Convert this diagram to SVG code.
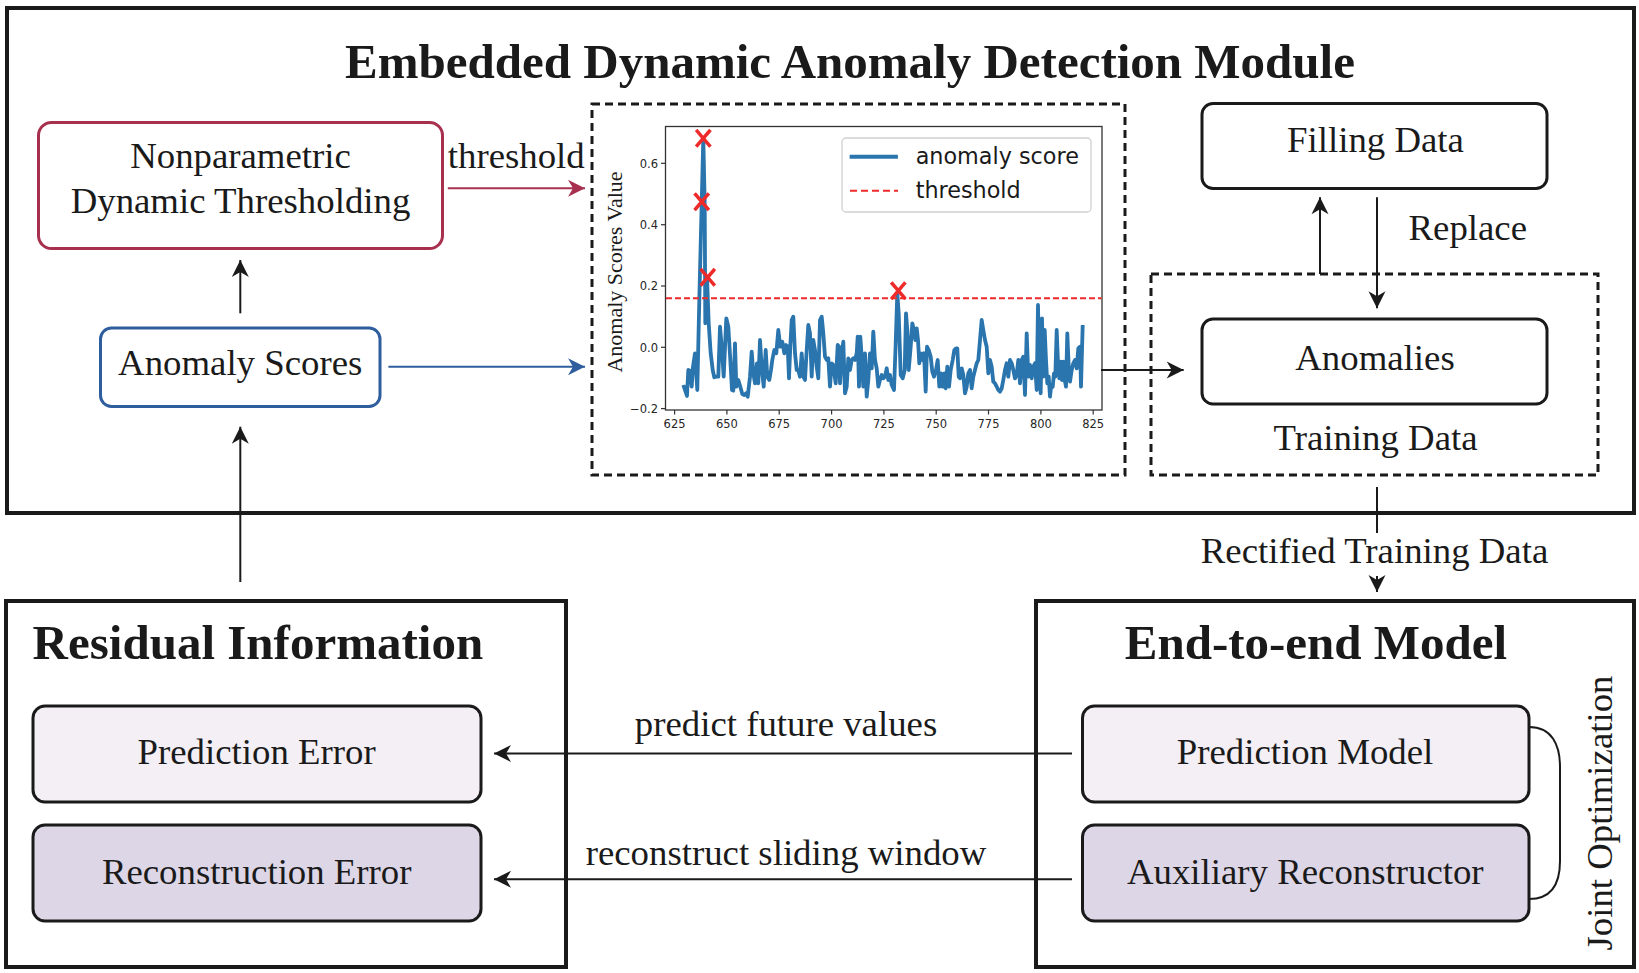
<svg xmlns="http://www.w3.org/2000/svg" width="1639" height="973" viewBox="0 0 1639 973">
<style>
.frame{fill:none;stroke:#1a1a1a;stroke-width:4}
.dash{fill:none;stroke:#1a1a1a;stroke-width:3;stroke-dasharray:8 5}
.box{fill:#fff;stroke:#1a1a1a;stroke-width:3}
.box.f1{fill:#f3eff5}
.box.f2{fill:#ddd6e7}
.t{font-family:"Liberation Serif","Times New Roman",serif;font-size:36.8px;fill:#1a1a1a}
.tb{font-family:"Liberation Serif","Times New Roman",serif;font-size:49px;font-weight:bold;fill:#1a1a1a}
.c{text-anchor:middle}
.ln{fill:none;stroke:#1a1a1a;stroke-width:2}
.tick{font-family:"DejaVu Sans",sans-serif;font-size:11.5px;fill:#262626}
.leg{font-family:"DejaVu Sans",sans-serif;font-size:22.3px;fill:#1a1a1a}
.x{stroke:#ee2a2a;stroke-width:3.5;stroke-linecap:square}
</style>
<defs>
<marker id="ah" markerUnits="userSpaceOnUse" markerWidth="22" markerHeight="22" viewBox="-19 -11 22 22" refX="0" refY="0" orient="auto"><path d="M0,0 L-17,-8.5 L-12,0 L-17,8.5 Z" fill="#1a1a1a"/></marker>
<marker id="ahr" markerUnits="userSpaceOnUse" markerWidth="22" markerHeight="22" viewBox="-19 -11 22 22" refX="0" refY="0" orient="auto"><path d="M0,0 L-17,-8.5 L-12,0 L-17,8.5 Z" fill="#a8304f"/></marker>
<marker id="ahb" markerUnits="userSpaceOnUse" markerWidth="22" markerHeight="22" viewBox="-19 -11 22 22" refX="0" refY="0" orient="auto"><path d="M0,0 L-17,-8.5 L-12,0 L-17,8.5 Z" fill="#2f5e9e"/></marker>
</defs>

<g id="module">
<rect class="frame" x="7" y="8" width="1627" height="505"/>
<text class="tb c" x="850" y="78">Embedded Dynamic Anomaly Detection Module</text>
</g>

<g id="nonparametric">
<rect x="38.5" y="122.5" width="404" height="126" rx="13" fill="#fff" stroke="#a8304f" stroke-width="3"/>
<text class="t c" x="240.5" y="168">Nonparametric</text>
<text class="t c" x="240.5" y="213">Dynamic Thresholding</text>
</g>

<g id="anomaly-scores">
<rect x="100.5" y="328" width="279.5" height="78.5" rx="11" fill="#fff" stroke="#2f5e9e" stroke-width="3"/>
<text class="t c" x="240.2" y="375">Anomaly Scores</text>
</g>

<g id="chart">
<rect class="dash" x="592" y="104" width="533" height="371"/>
<rect x="665.5" y="126.5" width="436.5" height="283.5" fill="#fff" stroke="#333" stroke-width="1.3"/>
<g stroke="#333" stroke-width="1.2">
<line x1="661" y1="408.6" x2="665.5" y2="408.6"/>
<line x1="661" y1="347.3" x2="665.5" y2="347.3"/>
<line x1="661" y1="286" x2="665.5" y2="286"/>
<line x1="661" y1="224.7" x2="665.5" y2="224.7"/>
<line x1="661" y1="163.3" x2="665.5" y2="163.3"/>
<line x1="674.6" y1="410" x2="674.6" y2="414.5"/>
<line x1="726.9" y1="410" x2="726.9" y2="414.5"/>
<line x1="779.2" y1="410" x2="779.2" y2="414.5"/>
<line x1="831.6" y1="410" x2="831.6" y2="414.5"/>
<line x1="883.9" y1="410" x2="883.9" y2="414.5"/>
<line x1="936.2" y1="410" x2="936.2" y2="414.5"/>
<line x1="988.5" y1="410" x2="988.5" y2="414.5"/>
<line x1="1040.9" y1="410" x2="1040.9" y2="414.5"/>
<line x1="1093.2" y1="410" x2="1093.2" y2="414.5"/>
</g>
<g class="tick" text-anchor="end">
<text x="658" y="412.8">−0.2</text>
<text x="658" y="351.5">0.0</text>
<text x="658" y="290.2">0.2</text>
<text x="658" y="228.9">0.4</text>
<text x="658" y="167.5">0.6</text>
</g>
<g class="tick" text-anchor="middle">
<text x="674.6" y="428">625</text>
<text x="726.9" y="428">650</text>
<text x="779.2" y="428">675</text>
<text x="831.6" y="428">700</text>
<text x="883.9" y="428">725</text>
<text x="936.2" y="428">750</text>
<text x="988.5" y="428">775</text>
<text x="1040.9" y="428">800</text>
<text x="1093.2" y="428">825</text>
</g>
<text transform="translate(622,272) rotate(-90)" text-anchor="middle" font-family="Liberation Serif, Times New Roman, serif" font-size="22" fill="#1a1a1a">Anomaly Scores Value</text>
<polyline fill="none" stroke="#2a75ad" stroke-width="3.8" stroke-linejoin="round" points="683.3,385 687,396 688.3,370 690.3,370.7 691.7,386.7 693,366.7 695,353.3 697.3,390 699.3,300 701.7,203.3 703.3,138.3 704.7,203.3 705.3,323.3 707,276.7 708.7,323.3 710.7,353.3 712.7,370 714.3,377.3 716,376.7 718.3,376.7 720,326.7 721.7,346.7 723.7,376.7 726.3,318.3 728.3,326.7 730.3,360 732,390 733.3,390.7 735,343.3 736.3,386.7 738.3,380 740.3,386.7 742.3,394 744.3,395 746,393.3 747.7,396.7 750,376.7 751.7,351.7 753.3,373.3 755,383.3 757,363.3 758.3,383.3 760,340 761.7,366.7 763.7,386.7 765.7,350 767.3,376.7 769.3,380 771,370 772.3,360 774.3,350 776.3,353.3 778.3,330 780.3,346.7 782.3,341.7 784.3,353.3 786,345 787.7,346.7 789,378.3 790.3,346.7 791.7,320 793.3,316.7 795,353.3 796.7,370 798.3,370 800,376.7 801.7,353.3 803.3,376.7 805,380 806.7,350 808.3,325 810,333.3 811.7,376.7 813.3,340 815,350 816.7,366.7 818.3,378.3 820,320 821.7,316.7 823.3,333.3 825,356.7 826.7,360 828.3,358.3 830,386.7 831.7,363.3 833.3,365 835.7,383.3 837.7,345 839,346.7 840,383.3 841.7,353.3 843.3,341.7 845,393.3 846.7,386.7 848.3,358.3 850,370 851.7,360 853.3,358.3 855,360 856.7,353.3 857.7,336.7 859,386.7 860.3,336.7 861.7,356.7 863.3,386.7 865,353.3 866.7,396.7 868.3,380 870,353.3 871.7,368.3 873.3,331.7 875,360 876.7,368.3 878.3,386.7 880,380 881.7,375 883.3,378.3 885,376.7 886.7,368.3 888.3,380 890,375 891.7,385 894,390 895.7,343.3 897.3,293.3 898.7,313.3 900.7,375 902.7,378.3 904.7,370 906,313.3 907.3,330 908.7,370 910.7,346.7 912.3,323.3 914,330 915.3,340 916.7,328.3 918,340 919.3,363.3 920.7,353.3 922.3,360 924,353.3 925.7,391.7 927,346.7 928.7,350 930.7,356.7 932.3,371.7 934,376.7 936,370 937.7,360 939.3,386.7 941,373.3 942.7,386.7 944.3,373.3 945.7,388.3 947.3,366.7 949,386.7 950.7,370 952.7,360 954.3,350 956,348.3 957.3,348.3 958.7,376.7 960,378.3 961.7,368.3 963.3,375 965,393.3 966.7,386.7 968.3,373.3 970,370 971.7,388.3 973.3,376.7 975,370 976.7,363.3 978.3,360 980,340 981.7,320 983.3,330 985,340 986.7,346.7 988.3,373.3 990,360 991.7,366.7 993.3,381.7 995,383.3 996.7,386.7 998.3,390 1000,391.7 1001.7,388.3 1003.3,380 1005,370 1006.7,363.3 1008.3,376.7 1010,360 1011.7,363.3 1013.3,370 1015,378.3 1016.7,375 1018.3,360 1020,383.3 1021.7,360 1023.3,356.7 1025,395 1026.7,333.3 1028.3,376.7 1030,365 1031.7,378.3 1033.3,366.7 1035,363.3 1036.7,390 1038,305 1039.3,370 1040.7,393.3 1042,318.3 1043.3,376.7 1044.7,330 1046,360 1047.3,383.3 1048.7,376.7 1050,396.7 1051.3,385 1052.7,386.7 1054,373.3 1055.3,376.7 1056.7,330 1058,363.3 1059.3,378.3 1060.7,361.7 1062,380 1063.3,361.7 1064.7,380 1066,386.7 1067.3,333.3 1068.7,366.7 1070,381.7 1071.7,370 1073.3,363.3 1075,360 1076.7,368.3 1078.3,348.3 1080,346.7 1081,386.7 1082.7,325"/>
<line x1="666" y1="298.3" x2="1101.5" y2="298.3" stroke="#ee2a2a" stroke-width="2" stroke-dasharray="6 3"/>
<g class="x">
<path d="M697.3,131.3 L709.3,145.3 M709.3,131.3 L697.3,145.3"/>
<path d="M695.7,194.7 L707.7,208.7 M707.7,194.7 L695.7,208.7"/>
<path d="M701.7,270.3 L713.7,284.3 M713.7,270.3 L701.7,284.3"/>
<path d="M892.3,283.7 L904.3,297.7 M904.3,283.7 L892.3,297.7"/>
</g>
<rect x="842" y="138" width="249" height="74" rx="4" fill="#fff" fill-opacity="0.85" stroke="#d0d0d0" stroke-width="1.3"/>
<line x1="849.6" y1="156.7" x2="897.9" y2="156.7" stroke="#2a75ad" stroke-width="4"/>
<line x1="850" y1="190.7" x2="898" y2="190.7" stroke="#ee2a2a" stroke-width="2" stroke-dasharray="7 4"/>
<text class="leg" x="915.7" y="164.3">anomaly score</text>
<text class="leg" x="915.7" y="198.3">threshold</text>
</g>

<g id="training-data">
<rect class="dash" x="1151" y="274" width="447" height="201"/>
<text class="t c" x="1375.5" y="450">Training Data</text>
</g>

<g id="filling-data">
<rect class="box" x="1202" y="103.5" width="345" height="85" rx="11"/>
<text class="t c" x="1375.5" y="152">Filling Data</text>
</g>

<g id="anomalies">
<rect class="box" x="1202" y="319" width="345" height="85" rx="11"/>
<text class="t c" x="1375" y="370">Anomalies</text>
</g>

<g id="residual">
<rect class="frame" x="6" y="601" width="560" height="366"/>
<text class="tb" x="32.6" y="659">Residual Information</text>
</g>

<g id="prediction-error">
<rect class="box f1" x="33" y="706" width="448" height="96" rx="12"/>
<text class="t c" x="256.6" y="764">Prediction Error</text>
</g>

<g id="reconstruction-error">
<rect class="box f2" x="33" y="825" width="448" height="96" rx="12"/>
<text class="t c" x="256.7" y="884">Reconstruction Error</text>
</g>

<g id="end-to-end">
<rect class="frame" x="1036" y="601" width="598" height="366"/>
<text class="tb c" x="1316" y="659">End-to-end Model</text>
<text class="t c" transform="translate(1612,813) rotate(-90)">Joint Optimization</text>
</g>

<g id="prediction-model">
<rect class="box f1" x="1082.5" y="706" width="446.5" height="96" rx="12"/>
<text class="t c" x="1305" y="764">Prediction Model</text>
</g>

<g id="auxiliary-reconstructor">
<rect class="box f2" x="1082.5" y="825" width="446.5" height="96" rx="12"/>
<text class="t c" x="1305.3" y="884">Auxiliary Reconstructor</text>
</g>

<g id="connectors">
<path d="M447.8,188.3 L585,188.3" fill="none" stroke="#a8304f" stroke-width="2" marker-end="url(#ahr)"/>
<text class="t" x="447.8" y="168">threshold</text>
<path d="M388.4,366.7 L585,366.7" fill="none" stroke="#2f5e9e" stroke-width="2" marker-end="url(#ahb)"/>
<path class="ln" d="M240.3,313.3 L240.3,260" marker-end="url(#ah)"/>
<path class="ln" d="M240.3,582 L240.3,426.7" marker-end="url(#ah)"/>
<path class="ln" d="M1101,370 L1183.7,370" marker-end="url(#ah)"/>
<path class="ln" d="M1320,274 L1320,197.3" marker-end="url(#ah)"/>
<path class="ln" d="M1377,197.3 L1377,308.3" marker-end="url(#ah)"/>
<text class="t" x="1408.5" y="240">Replace</text>
<path class="ln" d="M1377,487 L1377,533"/>
<path class="ln" d="M1377,576 L1377,592" marker-end="url(#ah)"/>
<text class="t c" x="1374.5" y="563.3">Rectified Training Data</text>
<path class="ln" d="M1072,753.5 L494,753.5" marker-end="url(#ah)"/>
<text class="t c" x="786" y="735.5">predict future values</text>
<path class="ln" d="M1072,879.3 L494,879.3" marker-end="url(#ah)"/>
<text class="t c" x="786" y="865">reconstruct sliding window</text>
<path class="ln" d="M1529,727 C1552,727 1560,745 1560,767 L1560,861 C1560,883 1552,899 1529,899" stroke-width="2.5"/>
</g>
</svg>
